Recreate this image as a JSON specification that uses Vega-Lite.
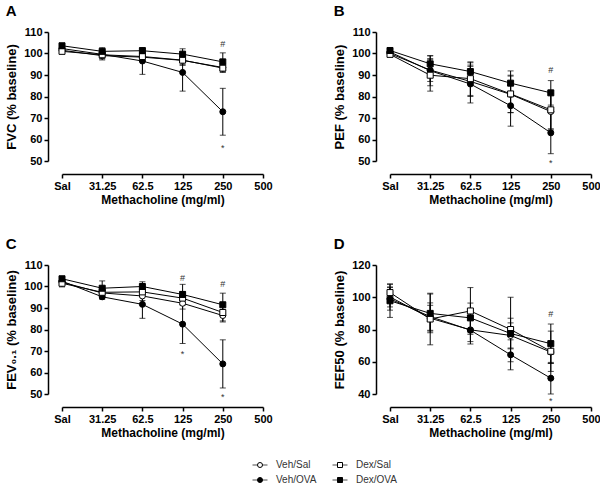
{
  "$schema": "https://vega.github.io/schema/vega-lite/v6.json",
  "padding": {"left": 5, "top": 4, "right": 5, "bottom": 3},
  "datasets": {
    "obs": [
      {"panel":"A","group":"Veh/Sal","dose":"Sal","mean":101.5,"lo":100.5,"hi":102.5},
      {"panel":"A","group":"Veh/Sal","dose":"31.25","mean":99,"lo":97,"hi":101},
      {"panel":"A","group":"Veh/Sal","dose":"62.5","mean":98.3,"lo":96.3,"hi":100.3},
      {"panel":"A","group":"Veh/Sal","dose":"125","mean":96.8,"lo":94.8,"hi":98.8},
      {"panel":"A","group":"Veh/Sal","dose":"250","mean":93.5,"lo":91.5,"hi":95.5},
      {"panel":"A","group":"Veh/OVA","dose":"Sal","mean":102.3,"lo":101,"hi":103.6},
      {"panel":"A","group":"Veh/OVA","dose":"31.25","mean":99.6,"lo":97.5,"hi":101.7},
      {"panel":"A","group":"Veh/OVA","dose":"62.5","mean":96.5,"lo":90.3,"hi":102.5},
      {"panel":"A","group":"Veh/OVA","dose":"125","mean":91.2,"lo":82.5,"hi":99.8},
      {"panel":"A","group":"Veh/OVA","dose":"250","mean":72.9,"lo":62,"hi":83.8},
      {"panel":"A","group":"Dex/Sal","dose":"Sal","mean":101,"lo":100,"hi":102},
      {"panel":"A","group":"Dex/Sal","dose":"31.25","mean":99.4,"lo":97.8,"hi":101},
      {"panel":"A","group":"Dex/Sal","dose":"62.5","mean":98.6,"lo":96.8,"hi":100.4},
      {"panel":"A","group":"Dex/Sal","dose":"125","mean":96.9,"lo":94.5,"hi":99.3},
      {"panel":"A","group":"Dex/Sal","dose":"250","mean":93.2,"lo":91.2,"hi":95.2},
      {"panel":"A","group":"Dex/OVA","dose":"Sal","mean":103.6,"lo":102.6,"hi":104.6},
      {"panel":"A","group":"Dex/OVA","dose":"31.25","mean":101,"lo":99.3,"hi":102.7},
      {"panel":"A","group":"Dex/OVA","dose":"62.5","mean":101.3,"lo":99.8,"hi":102.8},
      {"panel":"A","group":"Dex/OVA","dose":"125","mean":99.7,"lo":97.2,"hi":102.2},
      {"panel":"A","group":"Dex/OVA","dose":"250","mean":96.1,"lo":92,"hi":100.3},

      {"panel":"B","group":"Veh/Sal","dose":"Sal","mean":100,"lo":99,"hi":101},
      {"panel":"B","group":"Veh/Sal","dose":"31.25","mean":92.3,"lo":87,"hi":97.6},
      {"panel":"B","group":"Veh/Sal","dose":"62.5","mean":87,"lo":80,"hi":94},
      {"panel":"B","group":"Veh/Sal","dose":"125","mean":81,"lo":72.5,"hi":89.5},
      {"panel":"B","group":"Veh/Sal","dose":"250","mean":73,"lo":64.5,"hi":81.5},
      {"panel":"B","group":"Veh/OVA","dose":"Sal","mean":100.7,"lo":99.5,"hi":101.9},
      {"panel":"B","group":"Veh/OVA","dose":"31.25","mean":92,"lo":85,"hi":99},
      {"panel":"B","group":"Veh/OVA","dose":"62.5","mean":85.8,"lo":77,"hi":94.6},
      {"panel":"B","group":"Veh/OVA","dose":"125","mean":75.7,"lo":66.2,"hi":85.2},
      {"panel":"B","group":"Veh/OVA","dose":"250","mean":63.1,"lo":53.4,"hi":72.8},
      {"panel":"B","group":"Dex/Sal","dose":"Sal","mean":99.6,"lo":98.5,"hi":100.7},
      {"panel":"B","group":"Dex/Sal","dose":"31.25","mean":89.9,"lo":82.5,"hi":97.3},
      {"panel":"B","group":"Dex/Sal","dose":"62.5","mean":88.3,"lo":80.5,"hi":96.1},
      {"panel":"B","group":"Dex/Sal","dose":"125","mean":81.2,"lo":72.5,"hi":89.9},
      {"panel":"B","group":"Dex/Sal","dose":"250","mean":73.8,"lo":65,"hi":82.6},
      {"panel":"B","group":"Dex/OVA","dose":"Sal","mean":101.4,"lo":100.4,"hi":102.4},
      {"panel":"B","group":"Dex/OVA","dose":"31.25","mean":95.2,"lo":91.5,"hi":98.9},
      {"panel":"B","group":"Dex/OVA","dose":"62.5","mean":91.6,"lo":87.5,"hi":95.7},
      {"panel":"B","group":"Dex/OVA","dose":"125","mean":86.2,"lo":80.5,"hi":91.9},
      {"panel":"B","group":"Dex/OVA","dose":"250","mean":81.7,"lo":76,"hi":87.4},

      {"panel":"C","group":"Veh/Sal","dose":"Sal","mean":102,"lo":101,"hi":103},
      {"panel":"C","group":"Veh/Sal","dose":"31.25","mean":97,"lo":95,"hi":99},
      {"panel":"C","group":"Veh/Sal","dose":"62.5","mean":95.6,"lo":93.5,"hi":97.7},
      {"panel":"C","group":"Veh/Sal","dose":"125","mean":92.2,"lo":89.5,"hi":94.9},
      {"panel":"C","group":"Veh/Sal","dose":"250","mean":86.5,"lo":84,"hi":89},
      {"panel":"C","group":"Veh/OVA","dose":"Sal","mean":102.5,"lo":101.5,"hi":103.5},
      {"panel":"C","group":"Veh/OVA","dose":"31.25","mean":95.2,"lo":94,"hi":96.4},
      {"panel":"C","group":"Veh/OVA","dose":"62.5","mean":91.7,"lo":85.2,"hi":98.2},
      {"panel":"C","group":"Veh/OVA","dose":"125","mean":82.5,"lo":73.5,"hi":91.5},
      {"panel":"C","group":"Veh/OVA","dose":"250","mean":64,"lo":52.8,"hi":75.2},
      {"panel":"C","group":"Dex/Sal","dose":"Sal","mean":101.5,"lo":99.8,"hi":103.2},
      {"panel":"C","group":"Dex/Sal","dose":"31.25","mean":97.3,"lo":94.5,"hi":100.1},
      {"panel":"C","group":"Dex/Sal","dose":"62.5","mean":97.5,"lo":95.3,"hi":99.7},
      {"panel":"C","group":"Dex/Sal","dose":"125","mean":94.6,"lo":91.5,"hi":97.7},
      {"panel":"C","group":"Dex/Sal","dose":"250","mean":87.9,"lo":83.5,"hi":92.3},
      {"panel":"C","group":"Dex/OVA","dose":"Sal","mean":103.6,"lo":102.6,"hi":104.6},
      {"panel":"C","group":"Dex/OVA","dose":"31.25","mean":99.2,"lo":95.8,"hi":102.6},
      {"panel":"C","group":"Dex/OVA","dose":"62.5","mean":100,"lo":97.8,"hi":102.2},
      {"panel":"C","group":"Dex/OVA","dose":"125","mean":96.3,"lo":91.6,"hi":101},
      {"panel":"C","group":"Dex/OVA","dose":"250","mean":91.5,"lo":86.1,"hi":96.9},

      {"panel":"D","group":"Veh/Sal","dose":"Sal","mean":100.2,"lo":94,"hi":106.4},
      {"panel":"D","group":"Veh/Sal","dose":"31.25","mean":87,"lo":79,"hi":95},
      {"panel":"D","group":"Veh/Sal","dose":"62.5","mean":79.8,"lo":72.5,"hi":87.1},
      {"panel":"D","group":"Veh/Sal","dose":"125","mean":76.3,"lo":68.5,"hi":84.1},
      {"panel":"D","group":"Veh/Sal","dose":"250","mean":66,"lo":59,"hi":73},
      {"panel":"D","group":"Veh/OVA","dose":"Sal","mean":99,"lo":92,"hi":106},
      {"panel":"D","group":"Veh/OVA","dose":"31.25","mean":88,"lo":79.5,"hi":96.5},
      {"panel":"D","group":"Veh/OVA","dose":"62.5","mean":79.6,"lo":71,"hi":88.2},
      {"panel":"D","group":"Veh/OVA","dose":"125","mean":64.3,"lo":55,"hi":73.6},
      {"panel":"D","group":"Veh/OVA","dose":"250","mean":49.8,"lo":40,"hi":59.6},
      {"panel":"D","group":"Dex/Sal","dose":"Sal","mean":102.9,"lo":97.5,"hi":108.3},
      {"panel":"D","group":"Dex/Sal","dose":"31.25","mean":86.5,"lo":70.5,"hi":102.5},
      {"panel":"D","group":"Dex/Sal","dose":"62.5","mean":91.5,"lo":77,"hi":106},
      {"panel":"D","group":"Dex/Sal","dose":"125","mean":80,"lo":60,"hi":100},
      {"panel":"D","group":"Dex/Sal","dose":"250","mean":66.5,"lo":54,"hi":79},
      {"panel":"D","group":"Dex/OVA","dose":"Sal","mean":97.8,"lo":87.5,"hi":108},
      {"panel":"D","group":"Dex/OVA","dose":"31.25","mean":90,"lo":78,"hi":102},
      {"panel":"D","group":"Dex/OVA","dose":"62.5","mean":87.2,"lo":78,"hi":96.4},
      {"panel":"D","group":"Dex/OVA","dose":"125","mean":77.5,"lo":68,"hi":87},
      {"panel":"D","group":"Dex/OVA","dose":"250","mean":71.2,"lo":59,"hi":83.4}
    ],
    "annot": [
      {"panel":"A","dose":"250","ypos":104.3,"label":"#"},
      {"panel":"A","dose":"250","ypos":56,"label":"*"},
      {"panel":"B","dose":"250","ypos":92.5,"label":"#"},
      {"panel":"B","dose":"250","ypos":49.2,"label":"*"},
      {"panel":"C","dose":"125","ypos":103.8,"label":"#"},
      {"panel":"C","dose":"125","ypos":68.8,"label":"*"},
      {"panel":"C","dose":"250","ypos":101.2,"label":"#"},
      {"panel":"C","dose":"250","ypos":48.6,"label":"*"},
      {"panel":"D","dose":"250","ypos":89.5,"label":"#"},
      {"panel":"D","dose":"250","ypos":35.5,"label":"*"}
    ],
    "groups": [
      {"group":"Veh/Sal","treatment":"Veh","challenge":"Sal"},
      {"group":"Dex/Sal","treatment":"Dex","challenge":"Sal"},
      {"group":"Veh/OVA","treatment":"Veh","challenge":"OVA"},
      {"group":"Dex/OVA","treatment":"Dex","challenge":"OVA"}
    ]
  },
  "spacing": 20,
  "vconcat": [
    {
      "columns": 2,
      "spacing": {"row": 32, "column": 60},
      "concat": [
        {
          "width": 201, "height": 129, "title": "A",
          "data": {"name": "obs"},
          "transform": [{"filter": "datum.panel === 'A'"}],
          "encoding": {"x": {"field": "dose", "type": "ordinal", "scale": {"type": "point", "domain": ["Sal","31.25","62.5","125","250","500"], "padding": 0}, "axis": {"title": "Methacholine (mg/ml)"}}},
          "layer": [
            {"mark": {"type": "rule", "color": "black", "strokeWidth": 1}, "encoding": {"y": {"field": "lo", "type": "quantitative", "scale": {"domain": [50,110], "nice": false, "zero": false}, "axis": {"title": "FVC (% baseline)", "values": [50,60,70,80,90,100,110]}}, "y2": {"field": "hi"}}},
            {"mark": {"type": "tick", "color": "black", "size": 6, "thickness": 1}, "encoding": {"y": {"field": "lo", "type": "quantitative", "scale": {"domain": [50,110], "nice": false, "zero": false}, "axis": {"title": "FVC (% baseline)", "values": [50,60,70,80,90,100,110]}}}},
            {"mark": {"type": "tick", "color": "black", "size": 6, "thickness": 1}, "encoding": {"y": {"field": "hi", "type": "quantitative", "scale": {"domain": [50,110], "nice": false, "zero": false}, "axis": {"title": "FVC (% baseline)", "values": [50,60,70,80,90,100,110]}}}},
            {"mark": {"type": "line", "color": "black", "strokeWidth": 1}, "encoding": {"y": {"field": "mean", "type": "quantitative", "scale": {"domain": [50,110], "nice": false, "zero": false}, "axis": {"title": "FVC (% baseline)", "values": [50,60,70,80,90,100,110]}}, "detail": {"field": "group"}}},
            {"mark": {"type": "point", "stroke": "black", "strokeWidth": 1, "size": 36, "opacity": 1}, "encoding": {
              "y": {"field": "mean", "type": "quantitative", "scale": {"domain": [50,110], "nice": false, "zero": false}, "axis": {"title": "FVC (% baseline)", "values": [50,60,70,80,90,100,110]}},
              "shape": {"condition": {"test": "indexof(datum.group, 'Dex') === 0", "value": "square"}, "value": "circle"},
              "fill": {"field": "group", "type": "nominal", "scale": {"domain": ["Veh/Sal","Dex/Sal","Veh/OVA","Dex/OVA"], "range": ["white","white","black","black"]}, "legend": null}
            }},
            {"data": {"name": "annot"}, "transform": [{"filter": "datum.panel === 'A'"}], "mark": {"type": "text", "fontSize": 9, "fill": "#333", "baseline": "middle"}, "encoding": {"y": {"field": "ypos", "type": "quantitative", "scale": {"domain": [50,110], "nice": false, "zero": false}, "axis": {"title": "FVC (% baseline)", "values": [50,60,70,80,90,100,110]}}, "text": {"field": "label"}}}
          ]
        },
        {
          "width": 201, "height": 129, "title": "B",
          "data": {"name": "obs"},
          "transform": [{"filter": "datum.panel === 'B'"}],
          "encoding": {"x": {"field": "dose", "type": "ordinal", "scale": {"type": "point", "domain": ["Sal","31.25","62.5","125","250","500"], "padding": 0}, "axis": {"title": "Methacholine (mg/ml)"}}},
          "layer": [
            {"mark": {"type": "rule", "color": "black", "strokeWidth": 1}, "encoding": {"y": {"field": "lo", "type": "quantitative", "scale": {"domain": [50,110], "nice": false, "zero": false}, "axis": {"title": "PEF (% baseline)", "values": [50,60,70,80,90,100,110]}}, "y2": {"field": "hi"}}},
            {"mark": {"type": "tick", "color": "black", "size": 6, "thickness": 1}, "encoding": {"y": {"field": "lo", "type": "quantitative", "scale": {"domain": [50,110], "nice": false, "zero": false}, "axis": {"title": "PEF (% baseline)", "values": [50,60,70,80,90,100,110]}}}},
            {"mark": {"type": "tick", "color": "black", "size": 6, "thickness": 1}, "encoding": {"y": {"field": "hi", "type": "quantitative", "scale": {"domain": [50,110], "nice": false, "zero": false}, "axis": {"title": "PEF (% baseline)", "values": [50,60,70,80,90,100,110]}}}},
            {"mark": {"type": "line", "color": "black", "strokeWidth": 1}, "encoding": {"y": {"field": "mean", "type": "quantitative", "scale": {"domain": [50,110], "nice": false, "zero": false}, "axis": {"title": "PEF (% baseline)", "values": [50,60,70,80,90,100,110]}}, "detail": {"field": "group"}}},
            {"mark": {"type": "point", "stroke": "black", "strokeWidth": 1, "size": 36, "opacity": 1}, "encoding": {
              "y": {"field": "mean", "type": "quantitative", "scale": {"domain": [50,110], "nice": false, "zero": false}, "axis": {"title": "PEF (% baseline)", "values": [50,60,70,80,90,100,110]}},
              "shape": {"condition": {"test": "indexof(datum.group, 'Dex') === 0", "value": "square"}, "value": "circle"},
              "fill": {"field": "group", "type": "nominal", "scale": {"domain": ["Veh/Sal","Dex/Sal","Veh/OVA","Dex/OVA"], "range": ["white","white","black","black"]}, "legend": null}
            }},
            {"data": {"name": "annot"}, "transform": [{"filter": "datum.panel === 'B'"}], "mark": {"type": "text", "fontSize": 9, "fill": "#333", "baseline": "middle"}, "encoding": {"y": {"field": "ypos", "type": "quantitative", "scale": {"domain": [50,110], "nice": false, "zero": false}, "axis": {"title": "PEF (% baseline)", "values": [50,60,70,80,90,100,110]}}, "text": {"field": "label"}}}
          ]
        },
        {
          "width": 201, "height": 129, "title": "C",
          "data": {"name": "obs"},
          "transform": [{"filter": "datum.panel === 'C'"}],
          "encoding": {"x": {"field": "dose", "type": "ordinal", "scale": {"type": "point", "domain": ["Sal","31.25","62.5","125","250","500"], "padding": 0}, "axis": {"title": "Methacholine (mg/ml)"}}},
          "layer": [
            {"mark": {"type": "rule", "color": "black", "strokeWidth": 1}, "encoding": {"y": {"field": "lo", "type": "quantitative", "scale": {"domain": [50,110], "nice": false, "zero": false}, "axis": {"title": "FEV₀.₁ (% baseline)", "values": [50,60,70,80,90,100,110]}}, "y2": {"field": "hi"}}},
            {"mark": {"type": "tick", "color": "black", "size": 6, "thickness": 1}, "encoding": {"y": {"field": "lo", "type": "quantitative", "scale": {"domain": [50,110], "nice": false, "zero": false}, "axis": {"title": "FEV₀.₁ (% baseline)", "values": [50,60,70,80,90,100,110]}}}},
            {"mark": {"type": "tick", "color": "black", "size": 6, "thickness": 1}, "encoding": {"y": {"field": "hi", "type": "quantitative", "scale": {"domain": [50,110], "nice": false, "zero": false}, "axis": {"title": "FEV₀.₁ (% baseline)", "values": [50,60,70,80,90,100,110]}}}},
            {"mark": {"type": "line", "color": "black", "strokeWidth": 1}, "encoding": {"y": {"field": "mean", "type": "quantitative", "scale": {"domain": [50,110], "nice": false, "zero": false}, "axis": {"title": "FEV₀.₁ (% baseline)", "values": [50,60,70,80,90,100,110]}}, "detail": {"field": "group"}}},
            {"mark": {"type": "point", "stroke": "black", "strokeWidth": 1, "size": 36, "opacity": 1}, "encoding": {
              "y": {"field": "mean", "type": "quantitative", "scale": {"domain": [50,110], "nice": false, "zero": false}, "axis": {"title": "FEV₀.₁ (% baseline)", "values": [50,60,70,80,90,100,110]}},
              "shape": {"condition": {"test": "indexof(datum.group, 'Dex') === 0", "value": "square"}, "value": "circle"},
              "fill": {"field": "group", "type": "nominal", "scale": {"domain": ["Veh/Sal","Dex/Sal","Veh/OVA","Dex/OVA"], "range": ["white","white","black","black"]}, "legend": null}
            }},
            {"data": {"name": "annot"}, "transform": [{"filter": "datum.panel === 'C'"}], "mark": {"type": "text", "fontSize": 9, "fill": "#333", "baseline": "middle"}, "encoding": {"y": {"field": "ypos", "type": "quantitative", "scale": {"domain": [50,110], "nice": false, "zero": false}, "axis": {"title": "FEV₀.₁ (% baseline)", "values": [50,60,70,80,90,100,110]}}, "text": {"field": "label"}}}
          ]
        },
        {
          "width": 201, "height": 129, "title": "D",
          "data": {"name": "obs"},
          "transform": [{"filter": "datum.panel === 'D'"}],
          "encoding": {"x": {"field": "dose", "type": "ordinal", "scale": {"type": "point", "domain": ["Sal","31.25","62.5","125","250","500"], "padding": 0}, "axis": {"title": "Methacholine (mg/ml)"}}},
          "layer": [
            {"mark": {"type": "rule", "color": "black", "strokeWidth": 1}, "encoding": {"y": {"field": "lo", "type": "quantitative", "scale": {"domain": [40,120], "nice": false, "zero": false}, "axis": {"title": "FEF50 (% baseline)", "values": [40,60,80,100,120]}}, "y2": {"field": "hi"}}},
            {"mark": {"type": "tick", "color": "black", "size": 6, "thickness": 1}, "encoding": {"y": {"field": "lo", "type": "quantitative", "scale": {"domain": [40,120], "nice": false, "zero": false}, "axis": {"title": "FEF50 (% baseline)", "values": [40,60,80,100,120]}}}},
            {"mark": {"type": "tick", "color": "black", "size": 6, "thickness": 1}, "encoding": {"y": {"field": "hi", "type": "quantitative", "scale": {"domain": [40,120], "nice": false, "zero": false}, "axis": {"title": "FEF50 (% baseline)", "values": [40,60,80,100,120]}}}},
            {"mark": {"type": "line", "color": "black", "strokeWidth": 1}, "encoding": {"y": {"field": "mean", "type": "quantitative", "scale": {"domain": [40,120], "nice": false, "zero": false}, "axis": {"title": "FEF50 (% baseline)", "values": [40,60,80,100,120]}}, "detail": {"field": "group"}}},
            {"mark": {"type": "point", "stroke": "black", "strokeWidth": 1, "size": 36, "opacity": 1}, "encoding": {
              "y": {"field": "mean", "type": "quantitative", "scale": {"domain": [40,120], "nice": false, "zero": false}, "axis": {"title": "FEF50 (% baseline)", "values": [40,60,80,100,120]}},
              "shape": {"condition": {"test": "indexof(datum.group, 'Dex') === 0", "value": "square"}, "value": "circle"},
              "fill": {"field": "group", "type": "nominal", "scale": {"domain": ["Veh/Sal","Dex/Sal","Veh/OVA","Dex/OVA"], "range": ["white","white","black","black"]}, "legend": null}
            }},
            {"data": {"name": "annot"}, "transform": [{"filter": "datum.panel === 'D'"}], "mark": {"type": "text", "fontSize": 9, "fill": "#333", "baseline": "middle"}, "encoding": {"y": {"field": "ypos", "type": "quantitative", "scale": {"domain": [40,120], "nice": false, "zero": false}, "axis": {"title": "FEF50 (% baseline)", "values": [40,60,80,100,120]}}, "text": {"field": "label"}}}
          ]
        }
      ]
    },
    {
      "width": 420, "height": 22,
      "view": {"stroke": "transparent"},
      "data": {"name": "groups"},
      "encoding": {
        "x": {"field": "treatment", "type": "nominal", "scale": {"type": "point", "domain": ["Veh","Dex"], "range": [198, 278], "padding": 0}, "axis": null},
        "y": {"field": "challenge", "type": "nominal", "scale": {"type": "point", "domain": ["Sal","OVA"], "range": [6, 21], "padding": 0}, "axis": null}
      },
      "layer": [
        {"mark": {"type": "tick", "orient": "horizontal", "color": "black", "size": 15, "thickness": 1}},
        {"mark": {"type": "point", "stroke": "black", "strokeWidth": 1, "size": 25, "opacity": 1}, "encoding": {
          "shape": {"condition": {"test": "indexof(datum.group, 'Dex') === 0", "value": "square"}, "value": "circle"},
          "fill": {"field": "group", "type": "nominal", "scale": {"domain": ["Veh/Sal","Dex/Sal","Veh/OVA","Dex/OVA"], "range": ["white","white","black","black"]}, "legend": null}
        }},
        {"mark": {"type": "text", "align": "left", "baseline": "middle", "dx": 16, "fontSize": 10, "font": "Liberation Sans", "fill": "#333"}, "encoding": {"text": {"field": "group"}}}
      ]
    }
  ],
  "config": {
    "font": "Liberation Sans",
    "view": {"stroke": null},
    "axis": {"grid": false, "domainColor": "black", "domainWidth": 1.5, "tickColor": "black", "tickWidth": 1.5, "tickSize": 4, "labelColor": "black", "labelFont": "Liberation Sans", "labelFontWeight": "bold", "labelFontSize": 11, "titleFont": "Liberation Sans", "titleFontWeight": "bold", "titleFontSize": 12, "titleColor": "black"},
    "axisX": {"labelAngle": 0, "labelPadding": 2, "titlePadding": 3, "offset": 13},
    "axisY": {"labelPadding": 2, "titlePadding": 5, "offset": 14, "titleFontSize": 13},
    "title": {"fontSize": 15, "fontWeight": "bold", "anchor": "start", "frame": "bounds", "offset": 7, "font": "Liberation Sans", "color": "black"}
  }
}
